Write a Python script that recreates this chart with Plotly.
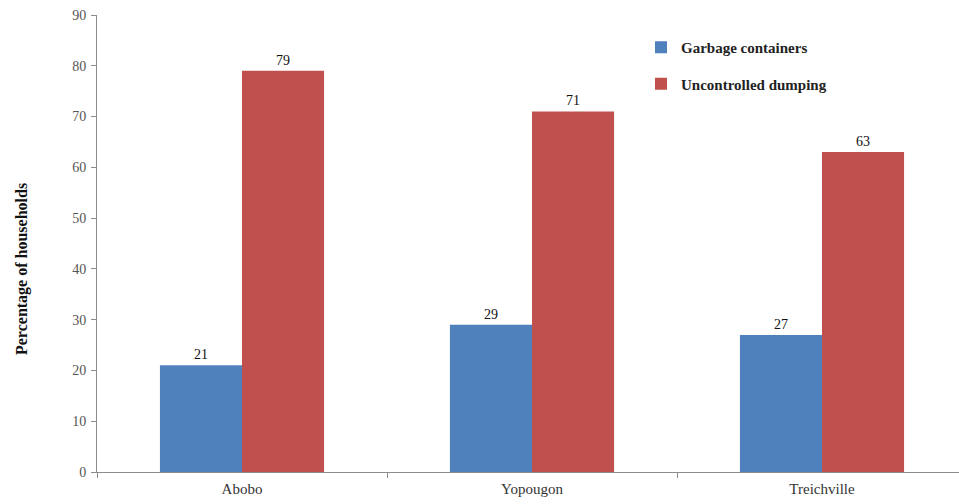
import plotly.graph_objects as go

categories = ["Abobo", "Yopougon", "Treichville"]
garbage_containers = [21, 29, 27]
uncontrolled_dumping = [79, 71, 63]
y_ticks = [0, 10, 20, 30, 40, 50, 60, 70, 80, 90]

FONT = "'Times New Roman', 'Liberation Serif', serif"
W, H = 959, 504
ML, MR, MT, MB = 97, 0, 15, 32

fig = go.Figure()
fig.add_trace(go.Bar(
    x=categories, y=garbage_containers, name="<b>Garbage containers</b>",
    marker=dict(color="#4F81BD", line=dict(width=0)),
    text=garbage_containers, textposition="outside", cliponaxis=False,
    textfont=dict(family=FONT, size=14, color="#111"),
    legendgroup="a",
))
fig.add_trace(go.Bar(
    x=categories, y=uncontrolled_dumping, name="<b>Uncontrolled dumping</b>",
    marker=dict(color="#C0504D", line=dict(width=0)),
    text=uncontrolled_dumping, textposition="outside", cliponaxis=False,
    textfont=dict(family=FONT, size=14, color="#111"),
    legendgroup="b",
))

fig.update_layout(
    width=W, height=H,
    margin=dict(l=ML, r=MR, t=MT, b=MB, pad=0),
    paper_bgcolor="white", plot_bgcolor="white",
    barmode="group", bargap=0.434, bargroupgap=0,
    font=dict(family=FONT, size=12, color="#333"),
    showlegend=True,
    legend=dict(
        x=(641 - ML) / (W - ML - MR), y=1 - (31 - MT) / (H - MT - MB),
        xanchor="left", yanchor="top",
        font=dict(family=FONT, size=15, color="#222"),
        bgcolor="rgba(0,0,0,0)", tracegroupgap=14, traceorder="grouped",
        itemwidth=30,
    ),
    xaxis=dict(
        range=[-0.5, 2 + 137 / 290], showgrid=False,
        showline=True, linecolor="#8c8c8c", linewidth=1,
        ticks="outside", tickson="boundaries", ticklen=5, tickcolor="#8c8c8c",
        tickfont=dict(family=FONT, size=15, color="#333"),
        ticklabelstandoff=3,
        fixedrange=True,
    ),
    yaxis=dict(
        range=[0, 90], tickvals=y_ticks, showgrid=False, zeroline=False,
        showline=True, linecolor="#8c8c8c", linewidth=1,
        ticks="outside", ticklen=5, tickcolor="#8c8c8c",
        tickfont=dict(family=FONT, size=14, color="#555"),
        ticklabelstandoff=2,
    ),
    annotations=[dict(
        text="<b>Percentage of households</b>", textangle=-90,
        xref="paper", yref="paper",
        x=(22 - ML) / (W - ML - MR), y=1 - (269 - MT) / (H - MT - MB),
        xanchor="center", yanchor="middle", showarrow=False,
        font=dict(family=FONT, size=16, color="#111"),
    )],
)

fig.write_html("out.html")
